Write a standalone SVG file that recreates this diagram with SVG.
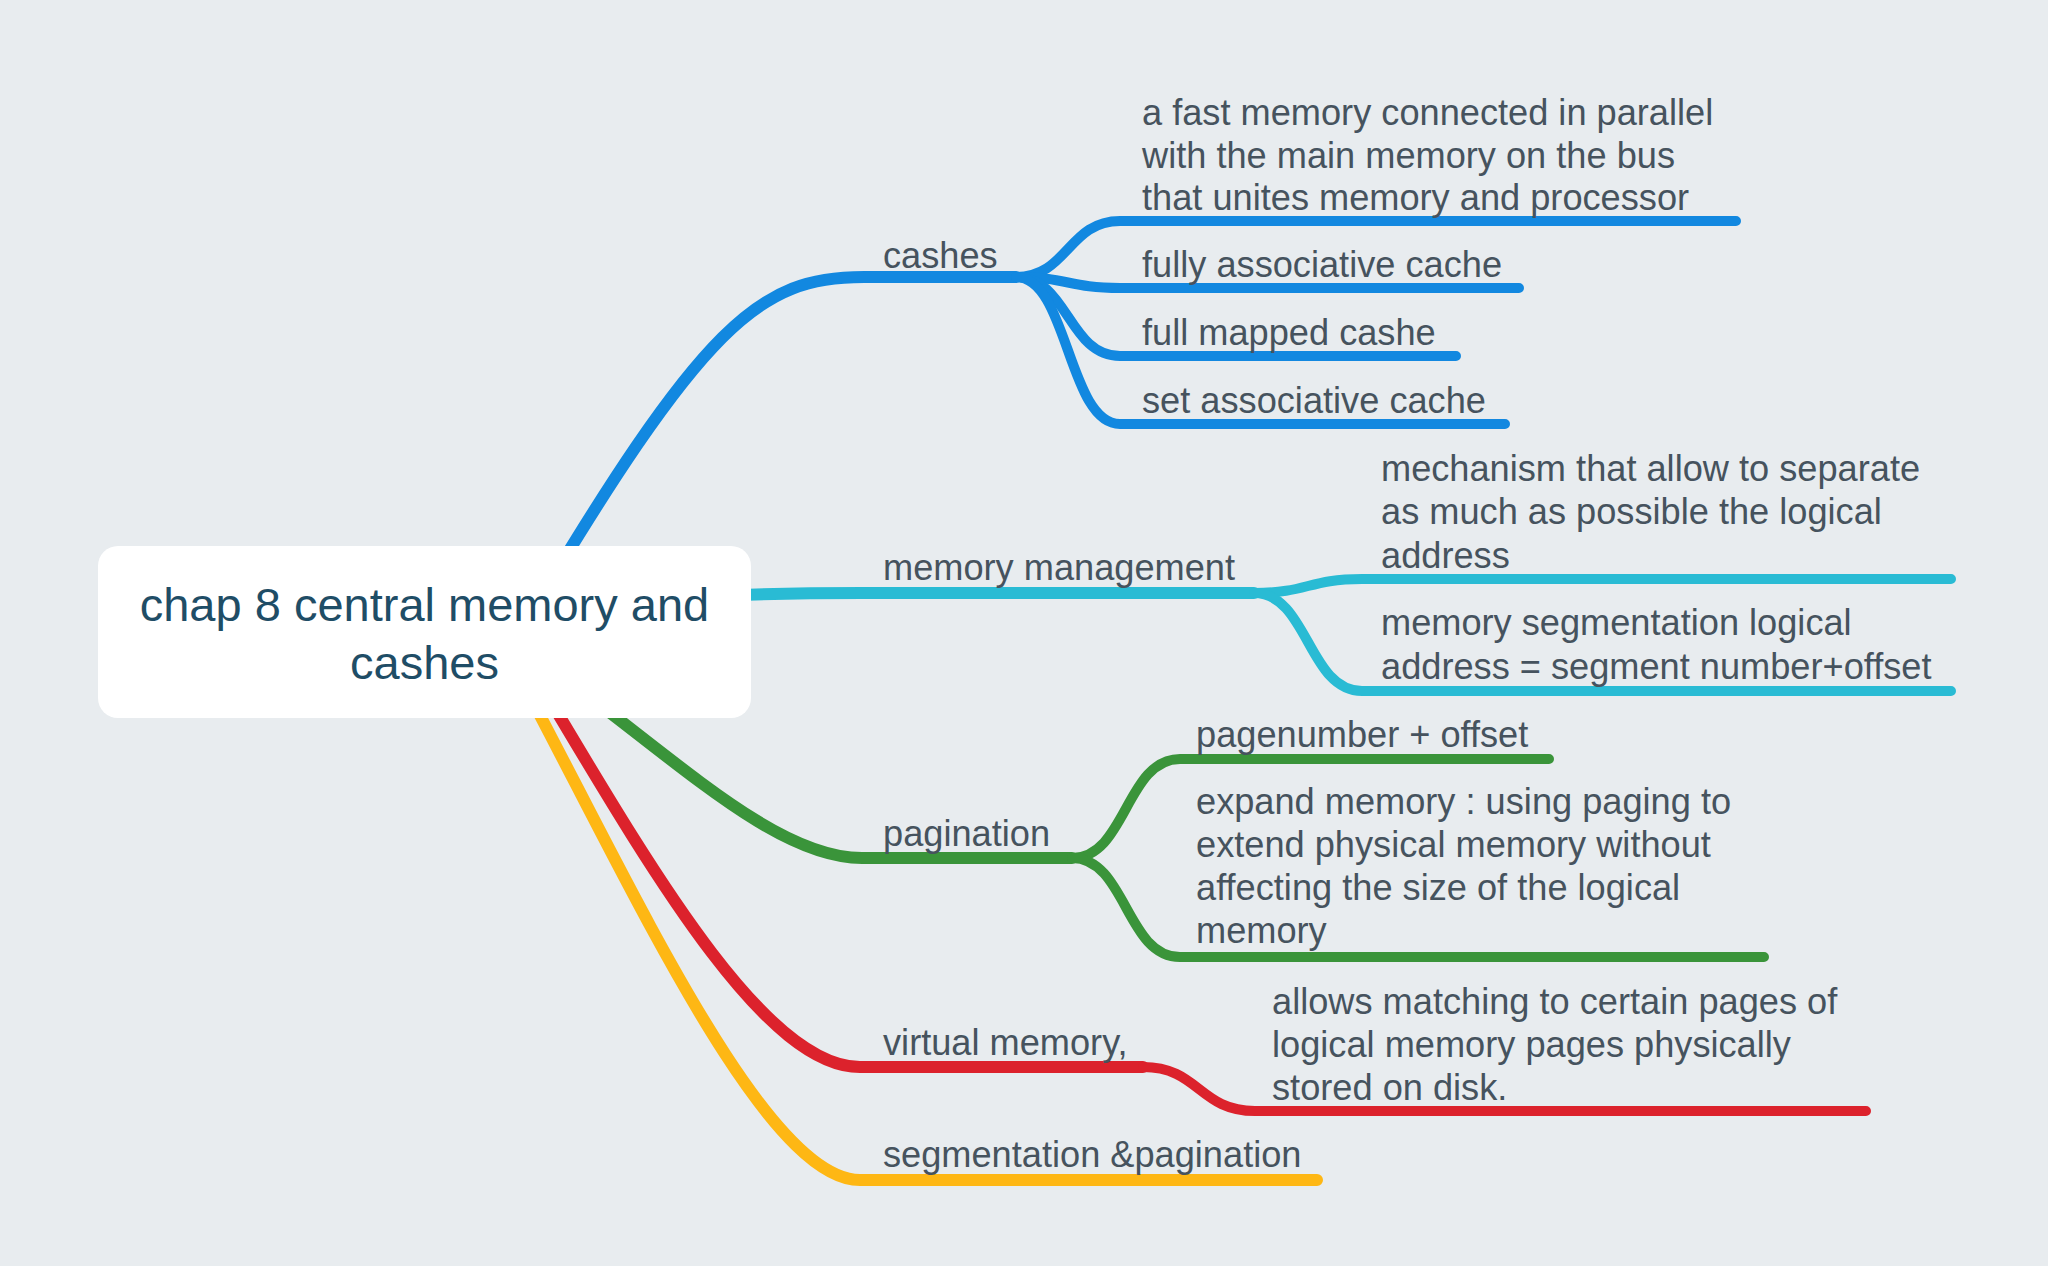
<svg xmlns="http://www.w3.org/2000/svg" width="2048" height="1266" viewBox="0 0 2048 1266">
<style>
.bg{fill:#e8ecef}
.ln{fill:none;stroke-linecap:round;stroke-linejoin:round}
.main{stroke-width:12}
.sub{stroke-width:10}
.blue{stroke:#1288e0}
.cyan{stroke:#29bbd4}
.green{stroke:#3a943a}
.red{stroke:#dc222c}
.yellow{stroke:#feb714}
.t{font-family:"Liberation Sans",Arial,sans-serif;font-size:36.2px;fill:#46535e}
.root{font-family:"Liberation Sans",Arial,sans-serif;font-size:47px;fill:#1f4d66;text-anchor:middle}
</style>
<rect class="bg" x="0" y="0" width="2048" height="1266"/>
<g id="connectors">
  <path class="ln main yellow" d="M500,640 C620,860 760,1180 860,1180 L1317,1180"/>
  <path class="ln main red" d="M520,650 C640,850 760,1067 860,1067 L1143,1067"/>
  <path class="ln sub red" d="M1143,1067 C1199,1067 1199,1111 1255,1111 L1866,1111"/>
  <path class="ln main green" d="M480,620 C640,720 760,858 862,858 L1072,858"/>
  <path class="ln sub green" d="M1072,858 C1126,858 1126,759 1180,759 L1549,759"/>
  <path class="ln sub green" d="M1072,858 C1126,858 1126,957 1180,957 L1764,957"/>
  <path class="ln main cyan" d="M424,632 C600,600 700,593 862,593 L1254,593"/>
  <path class="ln sub cyan" d="M1254,593 C1308,593 1308,579 1362,579 L1951,579"/>
  <path class="ln sub cyan" d="M1254,593 C1308,593 1308,691 1362,691 L1951,691"/>
  <path class="ln main blue" d="M520,632 C705,320 760,277 864,277 L1016,277"/>
  <path class="ln sub blue" d="M1016,277 C1068,277 1068,221 1120,221 L1736,221"/>
  <path class="ln sub blue" d="M1016,277 C1068,277 1068,288 1120,288 L1519,288"/>
  <path class="ln sub blue" d="M1016,277 C1068,277 1068,356 1120,356 L1456,356"/>
  <path class="ln sub blue" d="M1016,277 C1068,277 1068,424 1120,424 L1505,424"/>
</g>
<g id="root">
  <rect x="98" y="546" width="653" height="172" rx="20" fill="#ffffff"/>
  <text class="root" x="424.5" y="621">chap 8 central memory and</text>
  <text class="root" x="424.5" y="679">cashes</text>
</g>
<g id="cashes"><text class="t" x="883" y="268">cashes</text></g>
<g id="cashes-1"><text class="t" x="1142" y="125">a fast memory connected in parallel</text><text class="t" x="1142" y="168">with the main memory on the bus</text><text class="t" x="1142" y="210">that unites memory and processor</text></g>
<g id="cashes-2"><text class="t" x="1142" y="277">fully associative cache</text></g>
<g id="cashes-3"><text class="t" x="1142" y="345">full mapped cashe</text></g>
<g id="cashes-4"><text class="t" x="1142" y="413">set associative cache</text></g>
<g id="memory-management"><text class="t" x="883" y="580">memory management</text></g>
<g id="mm-1"><text class="t" x="1381" y="481">mechanism that allow to separate</text><text class="t" x="1381" y="524">as much as possible the logical</text><text class="t" x="1381" y="568">address</text></g>
<g id="mm-2"><text class="t" x="1381" y="635">memory segmentation logical</text><text class="t" x="1381" y="679">address = segment number+offset</text></g>
<g id="pagination"><text class="t" x="883" y="846">pagination</text></g>
<g id="pag-1"><text class="t" x="1196" y="747">pagenumber + offset</text></g>
<g id="pag-2"><text class="t" x="1196" y="814">expand memory : using paging to</text><text class="t" x="1196" y="857">extend physical memory without</text><text class="t" x="1196" y="900">affecting the size of the logical</text><text class="t" x="1196" y="943">memory</text></g>
<g id="virtual-memory"><text class="t" x="883" y="1055">virtual memory,</text></g>
<g id="vm-1"><text class="t" x="1272" y="1014">allows matching to certain pages of</text><text class="t" x="1272" y="1057">logical memory pages physically</text><text class="t" x="1272" y="1100">stored on disk.</text></g>
<g id="seg-pag"><text class="t" x="883" y="1167">segmentation &amp;pagination</text></g>
</svg>
